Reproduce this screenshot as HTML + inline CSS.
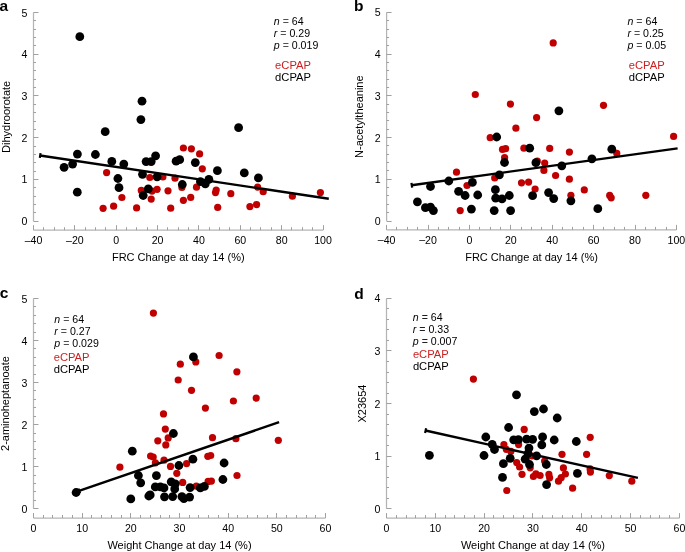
<!DOCTYPE html><html><head><meta charset="utf-8"><style>html,body{margin:0;padding:0;background:#fff;}svg{display:block;font-family:"Liberation Sans",sans-serif;will-change:transform;}</style></head><body>
<svg width="685" height="552" viewBox="0 0 685 552">
<rect width="685" height="552" fill="#fff"/>
<line x1="33.5" y1="12.5" x2="33.5" y2="221.2" stroke="#b4b4b4" stroke-width="1.25"/>
<line x1="33.5" y1="221.5" x2="38.5" y2="221.5" stroke="#a0a0a0" stroke-width="1"/>
<text x="27.5" y="225.2" text-anchor="end" font-size="10.6">0</text>
<line x1="33.5" y1="212.5" x2="36" y2="212.5" stroke="#a0a0a0" stroke-width="1"/>
<line x1="33.5" y1="204.5" x2="36" y2="204.5" stroke="#a0a0a0" stroke-width="1"/>
<line x1="33.5" y1="196.5" x2="36" y2="196.5" stroke="#a0a0a0" stroke-width="1"/>
<line x1="33.5" y1="187.5" x2="36" y2="187.5" stroke="#a0a0a0" stroke-width="1"/>
<line x1="33.5" y1="179.5" x2="38.5" y2="179.5" stroke="#a0a0a0" stroke-width="1"/>
<text x="27.5" y="183.46" text-anchor="end" font-size="10.6">1</text>
<line x1="33.5" y1="171.5" x2="36" y2="171.5" stroke="#a0a0a0" stroke-width="1"/>
<line x1="33.5" y1="162.5" x2="36" y2="162.5" stroke="#a0a0a0" stroke-width="1"/>
<line x1="33.5" y1="154.5" x2="36" y2="154.5" stroke="#a0a0a0" stroke-width="1"/>
<line x1="33.5" y1="146.5" x2="36" y2="146.5" stroke="#a0a0a0" stroke-width="1"/>
<line x1="33.5" y1="137.5" x2="38.5" y2="137.5" stroke="#a0a0a0" stroke-width="1"/>
<text x="27.5" y="141.72" text-anchor="end" font-size="10.6">2</text>
<line x1="33.5" y1="129.5" x2="36" y2="129.5" stroke="#a0a0a0" stroke-width="1"/>
<line x1="33.5" y1="121.5" x2="36" y2="121.5" stroke="#a0a0a0" stroke-width="1"/>
<line x1="33.5" y1="112.5" x2="36" y2="112.5" stroke="#a0a0a0" stroke-width="1"/>
<line x1="33.5" y1="104.5" x2="36" y2="104.5" stroke="#a0a0a0" stroke-width="1"/>
<line x1="33.5" y1="95.5" x2="38.5" y2="95.5" stroke="#a0a0a0" stroke-width="1"/>
<text x="27.5" y="99.98" text-anchor="end" font-size="10.6">3</text>
<line x1="33.5" y1="87.5" x2="36" y2="87.5" stroke="#a0a0a0" stroke-width="1"/>
<line x1="33.5" y1="79.5" x2="36" y2="79.5" stroke="#a0a0a0" stroke-width="1"/>
<line x1="33.5" y1="70.5" x2="36" y2="70.5" stroke="#a0a0a0" stroke-width="1"/>
<line x1="33.5" y1="62.5" x2="36" y2="62.5" stroke="#a0a0a0" stroke-width="1"/>
<line x1="33.5" y1="54.5" x2="38.5" y2="54.5" stroke="#a0a0a0" stroke-width="1"/>
<text x="27.5" y="58.24" text-anchor="end" font-size="10.6">4</text>
<line x1="33.5" y1="45.5" x2="36" y2="45.5" stroke="#a0a0a0" stroke-width="1"/>
<line x1="33.5" y1="37.5" x2="36" y2="37.5" stroke="#a0a0a0" stroke-width="1"/>
<line x1="33.5" y1="29.5" x2="36" y2="29.5" stroke="#a0a0a0" stroke-width="1"/>
<line x1="33.5" y1="20.5" x2="36" y2="20.5" stroke="#a0a0a0" stroke-width="1"/>
<line x1="33.5" y1="12.5" x2="38.5" y2="12.5" stroke="#a0a0a0" stroke-width="1"/>
<text x="27.5" y="16.5" text-anchor="end" font-size="10.6">5</text>
<line x1="33.5" y1="230.2" x2="323.0" y2="230.2" stroke="#b4b4b4" stroke-width="1.25"/>
<line x1="33.5" y1="230.2" x2="33.5" y2="225.2" stroke="#a0a0a0" stroke-width="1"/>
<text x="33.5" y="244" text-anchor="middle" font-size="10.6"><tspan dy="-0.4">–</tspan><tspan dy="0.4">40</tspan></text>
<line x1="43.5" y1="230.2" x2="43.5" y2="227.2" stroke="#a0a0a0" stroke-width="1"/>
<line x1="54.5" y1="230.2" x2="54.5" y2="227.2" stroke="#a0a0a0" stroke-width="1"/>
<line x1="64.5" y1="230.2" x2="64.5" y2="227.2" stroke="#a0a0a0" stroke-width="1"/>
<line x1="74.5" y1="230.2" x2="74.5" y2="225.2" stroke="#a0a0a0" stroke-width="1"/>
<text x="74.86" y="244" text-anchor="middle" font-size="10.6"><tspan dy="-0.4">–</tspan><tspan dy="0.4">20</tspan></text>
<line x1="85.5" y1="230.2" x2="85.5" y2="227.2" stroke="#a0a0a0" stroke-width="1"/>
<line x1="95.5" y1="230.2" x2="95.5" y2="227.2" stroke="#a0a0a0" stroke-width="1"/>
<line x1="105.5" y1="230.2" x2="105.5" y2="227.2" stroke="#a0a0a0" stroke-width="1"/>
<line x1="116.5" y1="230.2" x2="116.5" y2="225.2" stroke="#a0a0a0" stroke-width="1"/>
<text x="116.21" y="244" text-anchor="middle" font-size="10.6">0</text>
<line x1="126.5" y1="230.2" x2="126.5" y2="227.2" stroke="#a0a0a0" stroke-width="1"/>
<line x1="136.5" y1="230.2" x2="136.5" y2="227.2" stroke="#a0a0a0" stroke-width="1"/>
<line x1="147.5" y1="230.2" x2="147.5" y2="227.2" stroke="#a0a0a0" stroke-width="1"/>
<line x1="157.5" y1="230.2" x2="157.5" y2="225.2" stroke="#a0a0a0" stroke-width="1"/>
<text x="157.57" y="244" text-anchor="middle" font-size="10.6">20</text>
<line x1="167.5" y1="230.2" x2="167.5" y2="227.2" stroke="#a0a0a0" stroke-width="1"/>
<line x1="178.5" y1="230.2" x2="178.5" y2="227.2" stroke="#a0a0a0" stroke-width="1"/>
<line x1="188.5" y1="230.2" x2="188.5" y2="227.2" stroke="#a0a0a0" stroke-width="1"/>
<line x1="198.5" y1="230.2" x2="198.5" y2="225.2" stroke="#a0a0a0" stroke-width="1"/>
<text x="198.93" y="244" text-anchor="middle" font-size="10.6">40</text>
<line x1="209.5" y1="230.2" x2="209.5" y2="227.2" stroke="#a0a0a0" stroke-width="1"/>
<line x1="219.5" y1="230.2" x2="219.5" y2="227.2" stroke="#a0a0a0" stroke-width="1"/>
<line x1="229.5" y1="230.2" x2="229.5" y2="227.2" stroke="#a0a0a0" stroke-width="1"/>
<line x1="240.5" y1="230.2" x2="240.5" y2="225.2" stroke="#a0a0a0" stroke-width="1"/>
<text x="240.29" y="244" text-anchor="middle" font-size="10.6">60</text>
<line x1="250.5" y1="230.2" x2="250.5" y2="227.2" stroke="#a0a0a0" stroke-width="1"/>
<line x1="260.5" y1="230.2" x2="260.5" y2="227.2" stroke="#a0a0a0" stroke-width="1"/>
<line x1="271.5" y1="230.2" x2="271.5" y2="227.2" stroke="#a0a0a0" stroke-width="1"/>
<line x1="281.5" y1="230.2" x2="281.5" y2="225.2" stroke="#a0a0a0" stroke-width="1"/>
<text x="281.64" y="244" text-anchor="middle" font-size="10.6">80</text>
<line x1="291.5" y1="230.2" x2="291.5" y2="227.2" stroke="#a0a0a0" stroke-width="1"/>
<line x1="302.5" y1="230.2" x2="302.5" y2="227.2" stroke="#a0a0a0" stroke-width="1"/>
<line x1="312.5" y1="230.2" x2="312.5" y2="227.2" stroke="#a0a0a0" stroke-width="1"/>
<line x1="323.5" y1="230.2" x2="323.5" y2="225.2" stroke="#a0a0a0" stroke-width="1"/>
<text x="323" y="244" text-anchor="middle" font-size="10.6">100</text>
<text x="178.25" y="261.2" text-anchor="middle" font-size="11">FRC Change at day 14 (%)</text>
<text transform="translate(9.5,116.85) rotate(-90)" x="0" y="0" text-anchor="middle" font-size="11">Dihydroorotate</text>
<text x="-0.4" y="11.2" font-size="15.5" font-weight="bold">a</text>
<line x1="386.6" y1="12.4" x2="386.6" y2="221.0" stroke="#b4b4b4" stroke-width="1.25"/>
<line x1="386.6" y1="221.5" x2="391.6" y2="221.5" stroke="#a0a0a0" stroke-width="1"/>
<text x="380.6" y="225" text-anchor="end" font-size="10.6">0</text>
<line x1="386.6" y1="212.5" x2="389.1" y2="212.5" stroke="#a0a0a0" stroke-width="1"/>
<line x1="386.6" y1="204.5" x2="389.1" y2="204.5" stroke="#a0a0a0" stroke-width="1"/>
<line x1="386.6" y1="195.5" x2="389.1" y2="195.5" stroke="#a0a0a0" stroke-width="1"/>
<line x1="386.6" y1="187.5" x2="389.1" y2="187.5" stroke="#a0a0a0" stroke-width="1"/>
<line x1="386.6" y1="179.5" x2="391.6" y2="179.5" stroke="#a0a0a0" stroke-width="1"/>
<text x="380.6" y="183.28" text-anchor="end" font-size="10.6">1</text>
<line x1="386.6" y1="170.5" x2="389.1" y2="170.5" stroke="#a0a0a0" stroke-width="1"/>
<line x1="386.6" y1="162.5" x2="389.1" y2="162.5" stroke="#a0a0a0" stroke-width="1"/>
<line x1="386.6" y1="154.5" x2="389.1" y2="154.5" stroke="#a0a0a0" stroke-width="1"/>
<line x1="386.6" y1="145.5" x2="389.1" y2="145.5" stroke="#a0a0a0" stroke-width="1"/>
<line x1="386.6" y1="137.5" x2="391.6" y2="137.5" stroke="#a0a0a0" stroke-width="1"/>
<text x="380.6" y="141.56" text-anchor="end" font-size="10.6">2</text>
<line x1="386.6" y1="129.5" x2="389.1" y2="129.5" stroke="#a0a0a0" stroke-width="1"/>
<line x1="386.6" y1="120.5" x2="389.1" y2="120.5" stroke="#a0a0a0" stroke-width="1"/>
<line x1="386.6" y1="112.5" x2="389.1" y2="112.5" stroke="#a0a0a0" stroke-width="1"/>
<line x1="386.6" y1="104.5" x2="389.1" y2="104.5" stroke="#a0a0a0" stroke-width="1"/>
<line x1="386.6" y1="95.5" x2="391.6" y2="95.5" stroke="#a0a0a0" stroke-width="1"/>
<text x="380.6" y="99.84" text-anchor="end" font-size="10.6">3</text>
<line x1="386.6" y1="87.5" x2="389.1" y2="87.5" stroke="#a0a0a0" stroke-width="1"/>
<line x1="386.6" y1="79.5" x2="389.1" y2="79.5" stroke="#a0a0a0" stroke-width="1"/>
<line x1="386.6" y1="70.5" x2="389.1" y2="70.5" stroke="#a0a0a0" stroke-width="1"/>
<line x1="386.6" y1="62.5" x2="389.1" y2="62.5" stroke="#a0a0a0" stroke-width="1"/>
<line x1="386.6" y1="54.5" x2="391.6" y2="54.5" stroke="#a0a0a0" stroke-width="1"/>
<text x="380.6" y="58.12" text-anchor="end" font-size="10.6">4</text>
<line x1="386.6" y1="45.5" x2="389.1" y2="45.5" stroke="#a0a0a0" stroke-width="1"/>
<line x1="386.6" y1="37.5" x2="389.1" y2="37.5" stroke="#a0a0a0" stroke-width="1"/>
<line x1="386.6" y1="29.5" x2="389.1" y2="29.5" stroke="#a0a0a0" stroke-width="1"/>
<line x1="386.6" y1="20.5" x2="389.1" y2="20.5" stroke="#a0a0a0" stroke-width="1"/>
<line x1="386.6" y1="12.5" x2="391.6" y2="12.5" stroke="#a0a0a0" stroke-width="1"/>
<text x="380.6" y="16.4" text-anchor="end" font-size="10.6">5</text>
<line x1="386.6" y1="229.9" x2="676.4" y2="229.9" stroke="#b4b4b4" stroke-width="1.25"/>
<line x1="386.5" y1="229.9" x2="386.5" y2="224.9" stroke="#a0a0a0" stroke-width="1"/>
<text x="386.6" y="243.7" text-anchor="middle" font-size="10.6"><tspan dy="-0.4">–</tspan><tspan dy="0.4">40</tspan></text>
<line x1="396.5" y1="229.9" x2="396.5" y2="226.9" stroke="#a0a0a0" stroke-width="1"/>
<line x1="407.5" y1="229.9" x2="407.5" y2="226.9" stroke="#a0a0a0" stroke-width="1"/>
<line x1="417.5" y1="229.9" x2="417.5" y2="226.9" stroke="#a0a0a0" stroke-width="1"/>
<line x1="428.5" y1="229.9" x2="428.5" y2="224.9" stroke="#a0a0a0" stroke-width="1"/>
<text x="428" y="243.7" text-anchor="middle" font-size="10.6"><tspan dy="-0.4">–</tspan><tspan dy="0.4">20</tspan></text>
<line x1="438.5" y1="229.9" x2="438.5" y2="226.9" stroke="#a0a0a0" stroke-width="1"/>
<line x1="448.5" y1="229.9" x2="448.5" y2="226.9" stroke="#a0a0a0" stroke-width="1"/>
<line x1="459.5" y1="229.9" x2="459.5" y2="226.9" stroke="#a0a0a0" stroke-width="1"/>
<line x1="469.5" y1="229.9" x2="469.5" y2="224.9" stroke="#a0a0a0" stroke-width="1"/>
<text x="469.4" y="243.7" text-anchor="middle" font-size="10.6">0</text>
<line x1="479.5" y1="229.9" x2="479.5" y2="226.9" stroke="#a0a0a0" stroke-width="1"/>
<line x1="490.5" y1="229.9" x2="490.5" y2="226.9" stroke="#a0a0a0" stroke-width="1"/>
<line x1="500.5" y1="229.9" x2="500.5" y2="226.9" stroke="#a0a0a0" stroke-width="1"/>
<line x1="510.5" y1="229.9" x2="510.5" y2="224.9" stroke="#a0a0a0" stroke-width="1"/>
<text x="510.8" y="243.7" text-anchor="middle" font-size="10.6">20</text>
<line x1="521.5" y1="229.9" x2="521.5" y2="226.9" stroke="#a0a0a0" stroke-width="1"/>
<line x1="531.5" y1="229.9" x2="531.5" y2="226.9" stroke="#a0a0a0" stroke-width="1"/>
<line x1="541.5" y1="229.9" x2="541.5" y2="226.9" stroke="#a0a0a0" stroke-width="1"/>
<line x1="552.5" y1="229.9" x2="552.5" y2="224.9" stroke="#a0a0a0" stroke-width="1"/>
<text x="552.2" y="243.7" text-anchor="middle" font-size="10.6">40</text>
<line x1="562.5" y1="229.9" x2="562.5" y2="226.9" stroke="#a0a0a0" stroke-width="1"/>
<line x1="572.5" y1="229.9" x2="572.5" y2="226.9" stroke="#a0a0a0" stroke-width="1"/>
<line x1="583.5" y1="229.9" x2="583.5" y2="226.9" stroke="#a0a0a0" stroke-width="1"/>
<line x1="593.5" y1="229.9" x2="593.5" y2="224.9" stroke="#a0a0a0" stroke-width="1"/>
<text x="593.6" y="243.7" text-anchor="middle" font-size="10.6">60</text>
<line x1="603.5" y1="229.9" x2="603.5" y2="226.9" stroke="#a0a0a0" stroke-width="1"/>
<line x1="614.5" y1="229.9" x2="614.5" y2="226.9" stroke="#a0a0a0" stroke-width="1"/>
<line x1="624.5" y1="229.9" x2="624.5" y2="226.9" stroke="#a0a0a0" stroke-width="1"/>
<line x1="635.5" y1="229.9" x2="635.5" y2="224.9" stroke="#a0a0a0" stroke-width="1"/>
<text x="635" y="243.7" text-anchor="middle" font-size="10.6">80</text>
<line x1="645.5" y1="229.9" x2="645.5" y2="226.9" stroke="#a0a0a0" stroke-width="1"/>
<line x1="655.5" y1="229.9" x2="655.5" y2="226.9" stroke="#a0a0a0" stroke-width="1"/>
<line x1="666.5" y1="229.9" x2="666.5" y2="226.9" stroke="#a0a0a0" stroke-width="1"/>
<line x1="676.5" y1="229.9" x2="676.5" y2="224.9" stroke="#a0a0a0" stroke-width="1"/>
<text x="676.4" y="243.7" text-anchor="middle" font-size="10.6">100</text>
<text x="531.5" y="260.9" text-anchor="middle" font-size="11">FRC Change at day 14 (%)</text>
<text transform="translate(363.1,116.7) rotate(-90)" x="0" y="0" text-anchor="middle" font-size="11">N-acetyltheanine</text>
<text x="354" y="11.2" font-size="15.5" font-weight="bold">b</text>
<line x1="33.5" y1="298.5" x2="33.5" y2="508.7" stroke="#b4b4b4" stroke-width="1.25"/>
<line x1="33.5" y1="508.5" x2="38.5" y2="508.5" stroke="#a0a0a0" stroke-width="1"/>
<text x="27.5" y="512.7" text-anchor="end" font-size="10.6">0</text>
<line x1="33.5" y1="500.5" x2="36" y2="500.5" stroke="#a0a0a0" stroke-width="1"/>
<line x1="33.5" y1="491.5" x2="36" y2="491.5" stroke="#a0a0a0" stroke-width="1"/>
<line x1="33.5" y1="483.5" x2="36" y2="483.5" stroke="#a0a0a0" stroke-width="1"/>
<line x1="33.5" y1="475.5" x2="36" y2="475.5" stroke="#a0a0a0" stroke-width="1"/>
<line x1="33.5" y1="466.5" x2="38.5" y2="466.5" stroke="#a0a0a0" stroke-width="1"/>
<text x="27.5" y="470.66" text-anchor="end" font-size="10.6">1</text>
<line x1="33.5" y1="458.5" x2="36" y2="458.5" stroke="#a0a0a0" stroke-width="1"/>
<line x1="33.5" y1="449.5" x2="36" y2="449.5" stroke="#a0a0a0" stroke-width="1"/>
<line x1="33.5" y1="441.5" x2="36" y2="441.5" stroke="#a0a0a0" stroke-width="1"/>
<line x1="33.5" y1="433.5" x2="36" y2="433.5" stroke="#a0a0a0" stroke-width="1"/>
<line x1="33.5" y1="424.5" x2="38.5" y2="424.5" stroke="#a0a0a0" stroke-width="1"/>
<text x="27.5" y="428.62" text-anchor="end" font-size="10.6">2</text>
<line x1="33.5" y1="416.5" x2="36" y2="416.5" stroke="#a0a0a0" stroke-width="1"/>
<line x1="33.5" y1="407.5" x2="36" y2="407.5" stroke="#a0a0a0" stroke-width="1"/>
<line x1="33.5" y1="399.5" x2="36" y2="399.5" stroke="#a0a0a0" stroke-width="1"/>
<line x1="33.5" y1="390.5" x2="36" y2="390.5" stroke="#a0a0a0" stroke-width="1"/>
<line x1="33.5" y1="382.5" x2="38.5" y2="382.5" stroke="#a0a0a0" stroke-width="1"/>
<text x="27.5" y="386.58" text-anchor="end" font-size="10.6">3</text>
<line x1="33.5" y1="374.5" x2="36" y2="374.5" stroke="#a0a0a0" stroke-width="1"/>
<line x1="33.5" y1="365.5" x2="36" y2="365.5" stroke="#a0a0a0" stroke-width="1"/>
<line x1="33.5" y1="357.5" x2="36" y2="357.5" stroke="#a0a0a0" stroke-width="1"/>
<line x1="33.5" y1="348.5" x2="36" y2="348.5" stroke="#a0a0a0" stroke-width="1"/>
<line x1="33.5" y1="340.5" x2="38.5" y2="340.5" stroke="#a0a0a0" stroke-width="1"/>
<text x="27.5" y="344.54" text-anchor="end" font-size="10.6">4</text>
<line x1="33.5" y1="332.5" x2="36" y2="332.5" stroke="#a0a0a0" stroke-width="1"/>
<line x1="33.5" y1="323.5" x2="36" y2="323.5" stroke="#a0a0a0" stroke-width="1"/>
<line x1="33.5" y1="315.5" x2="36" y2="315.5" stroke="#a0a0a0" stroke-width="1"/>
<line x1="33.5" y1="306.5" x2="36" y2="306.5" stroke="#a0a0a0" stroke-width="1"/>
<line x1="33.5" y1="298.5" x2="38.5" y2="298.5" stroke="#a0a0a0" stroke-width="1"/>
<text x="27.5" y="302.5" text-anchor="end" font-size="10.6">5</text>
<line x1="33.5" y1="518.0" x2="325.5" y2="518.0" stroke="#b4b4b4" stroke-width="1.25"/>
<line x1="33.5" y1="518.0" x2="33.5" y2="513" stroke="#a0a0a0" stroke-width="1"/>
<text x="33.5" y="531.8" text-anchor="middle" font-size="10.6">0</text>
<line x1="43.5" y1="518.0" x2="43.5" y2="515" stroke="#a0a0a0" stroke-width="1"/>
<line x1="52.5" y1="518.0" x2="52.5" y2="515" stroke="#a0a0a0" stroke-width="1"/>
<line x1="62.5" y1="518.0" x2="62.5" y2="515" stroke="#a0a0a0" stroke-width="1"/>
<line x1="72.5" y1="518.0" x2="72.5" y2="515" stroke="#a0a0a0" stroke-width="1"/>
<line x1="82.5" y1="518.0" x2="82.5" y2="513" stroke="#a0a0a0" stroke-width="1"/>
<text x="82.17" y="531.8" text-anchor="middle" font-size="10.6">10</text>
<line x1="91.5" y1="518.0" x2="91.5" y2="515" stroke="#a0a0a0" stroke-width="1"/>
<line x1="101.5" y1="518.0" x2="101.5" y2="515" stroke="#a0a0a0" stroke-width="1"/>
<line x1="111.5" y1="518.0" x2="111.5" y2="515" stroke="#a0a0a0" stroke-width="1"/>
<line x1="121.5" y1="518.0" x2="121.5" y2="515" stroke="#a0a0a0" stroke-width="1"/>
<line x1="130.5" y1="518.0" x2="130.5" y2="513" stroke="#a0a0a0" stroke-width="1"/>
<text x="130.83" y="531.8" text-anchor="middle" font-size="10.6">20</text>
<line x1="140.5" y1="518.0" x2="140.5" y2="515" stroke="#a0a0a0" stroke-width="1"/>
<line x1="150.5" y1="518.0" x2="150.5" y2="515" stroke="#a0a0a0" stroke-width="1"/>
<line x1="160.5" y1="518.0" x2="160.5" y2="515" stroke="#a0a0a0" stroke-width="1"/>
<line x1="169.5" y1="518.0" x2="169.5" y2="515" stroke="#a0a0a0" stroke-width="1"/>
<line x1="179.5" y1="518.0" x2="179.5" y2="513" stroke="#a0a0a0" stroke-width="1"/>
<text x="179.5" y="531.8" text-anchor="middle" font-size="10.6">30</text>
<line x1="189.5" y1="518.0" x2="189.5" y2="515" stroke="#a0a0a0" stroke-width="1"/>
<line x1="198.5" y1="518.0" x2="198.5" y2="515" stroke="#a0a0a0" stroke-width="1"/>
<line x1="208.5" y1="518.0" x2="208.5" y2="515" stroke="#a0a0a0" stroke-width="1"/>
<line x1="218.5" y1="518.0" x2="218.5" y2="515" stroke="#a0a0a0" stroke-width="1"/>
<line x1="228.5" y1="518.0" x2="228.5" y2="513" stroke="#a0a0a0" stroke-width="1"/>
<text x="228.17" y="531.8" text-anchor="middle" font-size="10.6">40</text>
<line x1="237.5" y1="518.0" x2="237.5" y2="515" stroke="#a0a0a0" stroke-width="1"/>
<line x1="247.5" y1="518.0" x2="247.5" y2="515" stroke="#a0a0a0" stroke-width="1"/>
<line x1="257.5" y1="518.0" x2="257.5" y2="515" stroke="#a0a0a0" stroke-width="1"/>
<line x1="267.5" y1="518.0" x2="267.5" y2="515" stroke="#a0a0a0" stroke-width="1"/>
<line x1="276.5" y1="518.0" x2="276.5" y2="513" stroke="#a0a0a0" stroke-width="1"/>
<text x="276.83" y="531.8" text-anchor="middle" font-size="10.6">50</text>
<line x1="286.5" y1="518.0" x2="286.5" y2="515" stroke="#a0a0a0" stroke-width="1"/>
<line x1="296.5" y1="518.0" x2="296.5" y2="515" stroke="#a0a0a0" stroke-width="1"/>
<line x1="306.5" y1="518.0" x2="306.5" y2="515" stroke="#a0a0a0" stroke-width="1"/>
<line x1="315.5" y1="518.0" x2="315.5" y2="515" stroke="#a0a0a0" stroke-width="1"/>
<line x1="325.5" y1="518.0" x2="325.5" y2="513" stroke="#a0a0a0" stroke-width="1"/>
<text x="325.5" y="531.8" text-anchor="middle" font-size="10.6">60</text>
<text x="179.5" y="549" text-anchor="middle" font-size="11">Weight Change at day 14 (%)</text>
<text transform="translate(8.8,403.6) rotate(-90)" x="0" y="0" text-anchor="middle" font-size="11">2-aminoheptanoate</text>
<text x="-0.2" y="298.3" font-size="15.5" font-weight="bold">c</text>
<line x1="386.5" y1="298.4" x2="386.5" y2="508.7" stroke="#b4b4b4" stroke-width="1.25"/>
<line x1="386.5" y1="508.5" x2="391.5" y2="508.5" stroke="#a0a0a0" stroke-width="1"/>
<text x="380.5" y="512.7" text-anchor="end" font-size="10.6">0</text>
<line x1="386.5" y1="498.5" x2="389" y2="498.5" stroke="#a0a0a0" stroke-width="1"/>
<line x1="386.5" y1="487.5" x2="389" y2="487.5" stroke="#a0a0a0" stroke-width="1"/>
<line x1="386.5" y1="477.5" x2="389" y2="477.5" stroke="#a0a0a0" stroke-width="1"/>
<line x1="386.5" y1="466.5" x2="389" y2="466.5" stroke="#a0a0a0" stroke-width="1"/>
<line x1="386.5" y1="456.5" x2="391.5" y2="456.5" stroke="#a0a0a0" stroke-width="1"/>
<text x="380.5" y="460.12" text-anchor="end" font-size="10.6">1</text>
<line x1="386.5" y1="445.5" x2="389" y2="445.5" stroke="#a0a0a0" stroke-width="1"/>
<line x1="386.5" y1="435.5" x2="389" y2="435.5" stroke="#a0a0a0" stroke-width="1"/>
<line x1="386.5" y1="424.5" x2="389" y2="424.5" stroke="#a0a0a0" stroke-width="1"/>
<line x1="386.5" y1="414.5" x2="389" y2="414.5" stroke="#a0a0a0" stroke-width="1"/>
<line x1="386.5" y1="403.5" x2="391.5" y2="403.5" stroke="#a0a0a0" stroke-width="1"/>
<text x="380.5" y="407.55" text-anchor="end" font-size="10.6">2</text>
<line x1="386.5" y1="393.5" x2="389" y2="393.5" stroke="#a0a0a0" stroke-width="1"/>
<line x1="386.5" y1="382.5" x2="389" y2="382.5" stroke="#a0a0a0" stroke-width="1"/>
<line x1="386.5" y1="372.5" x2="389" y2="372.5" stroke="#a0a0a0" stroke-width="1"/>
<line x1="386.5" y1="361.5" x2="389" y2="361.5" stroke="#a0a0a0" stroke-width="1"/>
<line x1="386.5" y1="350.5" x2="391.5" y2="350.5" stroke="#a0a0a0" stroke-width="1"/>
<text x="380.5" y="354.98" text-anchor="end" font-size="10.6">3</text>
<line x1="386.5" y1="340.5" x2="389" y2="340.5" stroke="#a0a0a0" stroke-width="1"/>
<line x1="386.5" y1="329.5" x2="389" y2="329.5" stroke="#a0a0a0" stroke-width="1"/>
<line x1="386.5" y1="319.5" x2="389" y2="319.5" stroke="#a0a0a0" stroke-width="1"/>
<line x1="386.5" y1="308.5" x2="389" y2="308.5" stroke="#a0a0a0" stroke-width="1"/>
<line x1="386.5" y1="298.5" x2="391.5" y2="298.5" stroke="#a0a0a0" stroke-width="1"/>
<text x="380.5" y="302.4" text-anchor="end" font-size="10.6">4</text>
<line x1="386.5" y1="518.1" x2="679.4" y2="518.1" stroke="#b4b4b4" stroke-width="1.25"/>
<line x1="386.5" y1="518.1" x2="386.5" y2="513.1" stroke="#a0a0a0" stroke-width="1"/>
<text x="386.5" y="531.9" text-anchor="middle" font-size="10.6">0</text>
<line x1="396.5" y1="518.1" x2="396.5" y2="515.1" stroke="#a0a0a0" stroke-width="1"/>
<line x1="406.5" y1="518.1" x2="406.5" y2="515.1" stroke="#a0a0a0" stroke-width="1"/>
<line x1="415.5" y1="518.1" x2="415.5" y2="515.1" stroke="#a0a0a0" stroke-width="1"/>
<line x1="425.5" y1="518.1" x2="425.5" y2="515.1" stroke="#a0a0a0" stroke-width="1"/>
<line x1="435.5" y1="518.1" x2="435.5" y2="513.1" stroke="#a0a0a0" stroke-width="1"/>
<text x="435.32" y="531.9" text-anchor="middle" font-size="10.6">10</text>
<line x1="445.5" y1="518.1" x2="445.5" y2="515.1" stroke="#a0a0a0" stroke-width="1"/>
<line x1="454.5" y1="518.1" x2="454.5" y2="515.1" stroke="#a0a0a0" stroke-width="1"/>
<line x1="464.5" y1="518.1" x2="464.5" y2="515.1" stroke="#a0a0a0" stroke-width="1"/>
<line x1="474.5" y1="518.1" x2="474.5" y2="515.1" stroke="#a0a0a0" stroke-width="1"/>
<line x1="484.5" y1="518.1" x2="484.5" y2="513.1" stroke="#a0a0a0" stroke-width="1"/>
<text x="484.13" y="531.9" text-anchor="middle" font-size="10.6">20</text>
<line x1="493.5" y1="518.1" x2="493.5" y2="515.1" stroke="#a0a0a0" stroke-width="1"/>
<line x1="503.5" y1="518.1" x2="503.5" y2="515.1" stroke="#a0a0a0" stroke-width="1"/>
<line x1="513.5" y1="518.1" x2="513.5" y2="515.1" stroke="#a0a0a0" stroke-width="1"/>
<line x1="523.5" y1="518.1" x2="523.5" y2="515.1" stroke="#a0a0a0" stroke-width="1"/>
<line x1="532.5" y1="518.1" x2="532.5" y2="513.1" stroke="#a0a0a0" stroke-width="1"/>
<text x="532.95" y="531.9" text-anchor="middle" font-size="10.6">30</text>
<line x1="542.5" y1="518.1" x2="542.5" y2="515.1" stroke="#a0a0a0" stroke-width="1"/>
<line x1="552.5" y1="518.1" x2="552.5" y2="515.1" stroke="#a0a0a0" stroke-width="1"/>
<line x1="562.5" y1="518.1" x2="562.5" y2="515.1" stroke="#a0a0a0" stroke-width="1"/>
<line x1="572.5" y1="518.1" x2="572.5" y2="515.1" stroke="#a0a0a0" stroke-width="1"/>
<line x1="581.5" y1="518.1" x2="581.5" y2="513.1" stroke="#a0a0a0" stroke-width="1"/>
<text x="581.77" y="531.9" text-anchor="middle" font-size="10.6">40</text>
<line x1="591.5" y1="518.1" x2="591.5" y2="515.1" stroke="#a0a0a0" stroke-width="1"/>
<line x1="601.5" y1="518.1" x2="601.5" y2="515.1" stroke="#a0a0a0" stroke-width="1"/>
<line x1="611.5" y1="518.1" x2="611.5" y2="515.1" stroke="#a0a0a0" stroke-width="1"/>
<line x1="620.5" y1="518.1" x2="620.5" y2="515.1" stroke="#a0a0a0" stroke-width="1"/>
<line x1="630.5" y1="518.1" x2="630.5" y2="513.1" stroke="#a0a0a0" stroke-width="1"/>
<text x="630.58" y="531.9" text-anchor="middle" font-size="10.6">50</text>
<line x1="640.5" y1="518.1" x2="640.5" y2="515.1" stroke="#a0a0a0" stroke-width="1"/>
<line x1="650.5" y1="518.1" x2="650.5" y2="515.1" stroke="#a0a0a0" stroke-width="1"/>
<line x1="659.5" y1="518.1" x2="659.5" y2="515.1" stroke="#a0a0a0" stroke-width="1"/>
<line x1="669.5" y1="518.1" x2="669.5" y2="515.1" stroke="#a0a0a0" stroke-width="1"/>
<line x1="679.5" y1="518.1" x2="679.5" y2="513.1" stroke="#a0a0a0" stroke-width="1"/>
<text x="679.4" y="531.9" text-anchor="middle" font-size="10.6">60</text>
<text x="532.95" y="549.1" text-anchor="middle" font-size="11">Weight Change at day 14 (%)</text>
<text transform="translate(365.7,403.55) rotate(-90)" x="0" y="0" text-anchor="middle" font-size="11">X23654</text>
<text x="354.2" y="298.8" font-size="15.5" font-weight="bold">d</text>
<circle cx="183.4" cy="148.0" r="3.6" fill="#c00000"/>
<circle cx="191.4" cy="148.8" r="3.6" fill="#c00000"/>
<circle cx="199.6" cy="153.9" r="3.6" fill="#c00000"/>
<circle cx="202.3" cy="168.8" r="3.6" fill="#c00000"/>
<circle cx="149.8" cy="177.5" r="3.6" fill="#c00000"/>
<circle cx="162.9" cy="176.9" r="3.6" fill="#c00000"/>
<circle cx="175" cy="178.2" r="3.6" fill="#c00000"/>
<circle cx="141.3" cy="190.4" r="3.6" fill="#c00000"/>
<circle cx="152" cy="191.1" r="3.6" fill="#c00000"/>
<circle cx="157.1" cy="189.3" r="3.6" fill="#c00000"/>
<circle cx="168" cy="190.8" r="3.6" fill="#c00000"/>
<circle cx="181.9" cy="187.4" r="3.6" fill="#c00000"/>
<circle cx="196.5" cy="187.2" r="3.6" fill="#c00000"/>
<circle cx="216.2" cy="190.1" r="3.6" fill="#c00000"/>
<circle cx="215.5" cy="192.6" r="3.6" fill="#c00000"/>
<circle cx="230.8" cy="193.7" r="3.6" fill="#c00000"/>
<circle cx="151.2" cy="199.1" r="3.6" fill="#c00000"/>
<circle cx="183.4" cy="200.3" r="3.6" fill="#c00000"/>
<circle cx="190.7" cy="197.4" r="3.6" fill="#c00000"/>
<circle cx="136.6" cy="207.9" r="3.6" fill="#c00000"/>
<circle cx="170.7" cy="208.2" r="3.6" fill="#c00000"/>
<circle cx="217.7" cy="207.4" r="3.6" fill="#c00000"/>
<circle cx="257.6" cy="187.1" r="3.6" fill="#c00000"/>
<circle cx="263.2" cy="191.7" r="3.6" fill="#c00000"/>
<circle cx="249.9" cy="206.6" r="3.6" fill="#c00000"/>
<circle cx="256.6" cy="204.6" r="3.6" fill="#c00000"/>
<circle cx="292.4" cy="196.2" r="3.6" fill="#c00000"/>
<circle cx="320.4" cy="192.6" r="3.6" fill="#c00000"/>
<circle cx="106.6" cy="172.6" r="3.6" fill="#c00000"/>
<circle cx="121.9" cy="197.5" r="3.6" fill="#c00000"/>
<circle cx="113.6" cy="206.2" r="3.6" fill="#c00000"/>
<circle cx="103.1" cy="208.3" r="3.6" fill="#c00000"/>
<circle cx="79.8" cy="36.7" r="4.4" fill="#000"/>
<circle cx="142" cy="101.2" r="4.4" fill="#000"/>
<circle cx="140.9" cy="119.6" r="4.4" fill="#000"/>
<circle cx="238.6" cy="127.7" r="4.4" fill="#000"/>
<circle cx="105.2" cy="131.7" r="4.4" fill="#000"/>
<circle cx="77.4" cy="154.1" r="4.4" fill="#000"/>
<circle cx="95.4" cy="154.5" r="4.4" fill="#000"/>
<circle cx="64.1" cy="167.3" r="4.4" fill="#000"/>
<circle cx="72.6" cy="164.1" r="4.4" fill="#000"/>
<circle cx="111.8" cy="161.4" r="4.4" fill="#000"/>
<circle cx="123.8" cy="164.1" r="4.4" fill="#000"/>
<circle cx="146.1" cy="161.6" r="4.4" fill="#000"/>
<circle cx="151.2" cy="161.6" r="4.4" fill="#000"/>
<circle cx="155.6" cy="155.8" r="4.4" fill="#000"/>
<circle cx="176.1" cy="161.2" r="4.4" fill="#000"/>
<circle cx="179.7" cy="159.7" r="4.4" fill="#000"/>
<circle cx="195.3" cy="162.6" r="4.4" fill="#000"/>
<circle cx="217.4" cy="170.7" r="4.4" fill="#000"/>
<circle cx="142.5" cy="174.3" r="4.4" fill="#000"/>
<circle cx="157.1" cy="176.8" r="4.4" fill="#000"/>
<circle cx="182.3" cy="184.5" r="4.4" fill="#000"/>
<circle cx="200.4" cy="181.6" r="4.4" fill="#000"/>
<circle cx="205.3" cy="183.8" r="4.4" fill="#000"/>
<circle cx="208.9" cy="179.4" r="4.4" fill="#000"/>
<circle cx="148.3" cy="188.9" r="4.4" fill="#000"/>
<circle cx="143.2" cy="195.5" r="4.4" fill="#000"/>
<circle cx="117.9" cy="178.5" r="4.4" fill="#000"/>
<circle cx="119" cy="187.7" r="4.4" fill="#000"/>
<circle cx="77.3" cy="192.2" r="4.4" fill="#000"/>
<circle cx="244.3" cy="172.9" r="4.4" fill="#000"/>
<circle cx="258.4" cy="177.9" r="4.4" fill="#000"/>
<line x1="40" y1="155.5" x2="328.8" y2="198.8" stroke="#000" stroke-width="2.4"/>
<line x1="39.84" y1="157.9" x2="40.55" y2="153.16" stroke="#000" stroke-width="2.2"/>
<circle cx="456.5" cy="172.2" r="3.6" fill="#c00000"/>
<circle cx="467" cy="185.5" r="3.6" fill="#c00000"/>
<circle cx="460.2" cy="210.6" r="3.6" fill="#c00000"/>
<circle cx="504.6" cy="157.7" r="3.6" fill="#c00000"/>
<circle cx="494.7" cy="178" r="3.6" fill="#c00000"/>
<circle cx="521.5" cy="182.8" r="3.6" fill="#c00000"/>
<circle cx="528.6" cy="182.1" r="3.6" fill="#c00000"/>
<circle cx="535.1" cy="189" r="3.6" fill="#c00000"/>
<circle cx="544.7" cy="163" r="3.6" fill="#c00000"/>
<circle cx="543.9" cy="170.4" r="3.6" fill="#c00000"/>
<circle cx="555.6" cy="175.5" r="3.6" fill="#c00000"/>
<circle cx="569.4" cy="179.2" r="3.6" fill="#c00000"/>
<circle cx="570.9" cy="195.3" r="3.6" fill="#c00000"/>
<circle cx="536.6" cy="117.6" r="3.6" fill="#c00000"/>
<circle cx="515.9" cy="128.2" r="3.6" fill="#c00000"/>
<circle cx="490.2" cy="137.7" r="3.6" fill="#c00000"/>
<circle cx="502.5" cy="149.4" r="3.6" fill="#c00000"/>
<circle cx="505.6" cy="148.7" r="3.6" fill="#c00000"/>
<circle cx="523.9" cy="148.2" r="3.6" fill="#c00000"/>
<circle cx="549.7" cy="148.4" r="3.6" fill="#c00000"/>
<circle cx="569.4" cy="152.1" r="3.6" fill="#c00000"/>
<circle cx="537.3" cy="161.1" r="3.6" fill="#c00000"/>
<circle cx="553.2" cy="42.9" r="3.6" fill="#c00000"/>
<circle cx="475.3" cy="94.5" r="3.6" fill="#c00000"/>
<circle cx="510.4" cy="104.1" r="3.6" fill="#c00000"/>
<circle cx="603.5" cy="105.3" r="3.6" fill="#c00000"/>
<circle cx="673.6" cy="136.4" r="3.6" fill="#c00000"/>
<circle cx="616.8" cy="153.4" r="3.6" fill="#c00000"/>
<circle cx="584.3" cy="189.9" r="3.6" fill="#c00000"/>
<circle cx="609.7" cy="195.4" r="3.6" fill="#c00000"/>
<circle cx="611.2" cy="197.8" r="3.6" fill="#c00000"/>
<circle cx="645.8" cy="195.3" r="3.6" fill="#c00000"/>
<circle cx="430.5" cy="186.5" r="4.4" fill="#000"/>
<circle cx="448.8" cy="181" r="4.4" fill="#000"/>
<circle cx="472.4" cy="182.4" r="4.4" fill="#000"/>
<circle cx="458.6" cy="191.3" r="4.4" fill="#000"/>
<circle cx="465.1" cy="195.5" r="4.4" fill="#000"/>
<circle cx="477.7" cy="195" r="4.4" fill="#000"/>
<circle cx="417.4" cy="201.8" r="4.4" fill="#000"/>
<circle cx="425.4" cy="207.7" r="4.4" fill="#000"/>
<circle cx="430.5" cy="207.2" r="4.4" fill="#000"/>
<circle cx="433.4" cy="210.6" r="4.4" fill="#000"/>
<circle cx="471.4" cy="209.1" r="4.4" fill="#000"/>
<circle cx="504.5" cy="162.5" r="4.4" fill="#000"/>
<circle cx="535.9" cy="162.7" r="4.4" fill="#000"/>
<circle cx="561.8" cy="165.8" r="4.4" fill="#000"/>
<circle cx="499.4" cy="174.8" r="4.4" fill="#000"/>
<circle cx="495.4" cy="189.7" r="4.4" fill="#000"/>
<circle cx="495.7" cy="198.2" r="4.4" fill="#000"/>
<circle cx="502" cy="198.9" r="4.4" fill="#000"/>
<circle cx="509.3" cy="195.5" r="4.4" fill="#000"/>
<circle cx="532.6" cy="195.7" r="4.4" fill="#000"/>
<circle cx="548.6" cy="192.6" r="4.4" fill="#000"/>
<circle cx="553.7" cy="198.6" r="4.4" fill="#000"/>
<circle cx="570.9" cy="200.8" r="4.4" fill="#000"/>
<circle cx="494.2" cy="210.6" r="4.4" fill="#000"/>
<circle cx="510.6" cy="210.6" r="4.4" fill="#000"/>
<circle cx="558.9" cy="110.8" r="4.4" fill="#000"/>
<circle cx="496.7" cy="137" r="4.4" fill="#000"/>
<circle cx="529.7" cy="148.2" r="4.4" fill="#000"/>
<circle cx="611.8" cy="149.2" r="4.4" fill="#000"/>
<circle cx="591.9" cy="158.8" r="4.4" fill="#000"/>
<circle cx="597.8" cy="208.7" r="4.4" fill="#000"/>
<line x1="411.6" y1="185.2" x2="677.6" y2="148.4" stroke="#000" stroke-width="2.4"/>
<line x1="412.13" y1="187.55" x2="411.47" y2="182.8" stroke="#000" stroke-width="2.2"/>
<circle cx="119.9" cy="467.2" r="3.6" fill="#c00000"/>
<circle cx="150.6" cy="456" r="3.6" fill="#c00000"/>
<circle cx="153.2" cy="457" r="3.6" fill="#c00000"/>
<circle cx="155.4" cy="462.8" r="3.6" fill="#c00000"/>
<circle cx="157.8" cy="440.8" r="3.6" fill="#c00000"/>
<circle cx="165.8" cy="444.9" r="3.6" fill="#c00000"/>
<circle cx="168.2" cy="437.9" r="3.6" fill="#c00000"/>
<circle cx="165.3" cy="429.1" r="3.6" fill="#c00000"/>
<circle cx="163.5" cy="413.9" r="3.6" fill="#c00000"/>
<circle cx="178.2" cy="380" r="3.6" fill="#c00000"/>
<circle cx="191.5" cy="390.3" r="3.6" fill="#c00000"/>
<circle cx="205.4" cy="408.1" r="3.6" fill="#c00000"/>
<circle cx="212.5" cy="437.7" r="3.6" fill="#c00000"/>
<circle cx="235.9" cy="438.7" r="3.6" fill="#c00000"/>
<circle cx="233.4" cy="401" r="3.6" fill="#c00000"/>
<circle cx="256.2" cy="398.1" r="3.6" fill="#c00000"/>
<circle cx="180.3" cy="364.2" r="3.6" fill="#c00000"/>
<circle cx="195.8" cy="361.9" r="3.6" fill="#c00000"/>
<circle cx="219.1" cy="355.5" r="3.6" fill="#c00000"/>
<circle cx="236.9" cy="371.8" r="3.6" fill="#c00000"/>
<circle cx="153.4" cy="313.1" r="3.6" fill="#c00000"/>
<circle cx="278.3" cy="440.3" r="3.6" fill="#c00000"/>
<circle cx="164" cy="460.2" r="3.6" fill="#c00000"/>
<circle cx="170.5" cy="466.4" r="3.6" fill="#c00000"/>
<circle cx="176.8" cy="473.3" r="3.6" fill="#c00000"/>
<circle cx="186.6" cy="463.6" r="3.6" fill="#c00000"/>
<circle cx="207.8" cy="456.3" r="3.6" fill="#c00000"/>
<circle cx="210.7" cy="455.5" r="3.6" fill="#c00000"/>
<circle cx="182.7" cy="482.4" r="3.6" fill="#c00000"/>
<circle cx="196.3" cy="486.2" r="3.6" fill="#c00000"/>
<circle cx="208.1" cy="481.4" r="3.6" fill="#c00000"/>
<circle cx="211.4" cy="481.1" r="3.6" fill="#c00000"/>
<circle cx="237" cy="475.5" r="3.6" fill="#c00000"/>
<circle cx="76.1" cy="492.5" r="4.4" fill="#000"/>
<circle cx="132.3" cy="451.2" r="4.4" fill="#000"/>
<circle cx="138.4" cy="475.5" r="4.4" fill="#000"/>
<circle cx="140.7" cy="482.8" r="4.4" fill="#000"/>
<circle cx="130.8" cy="498.9" r="4.4" fill="#000"/>
<circle cx="148.8" cy="496" r="4.4" fill="#000"/>
<circle cx="150.2" cy="494.9" r="4.4" fill="#000"/>
<circle cx="156.4" cy="475.6" r="4.4" fill="#000"/>
<circle cx="155.3" cy="486.9" r="4.4" fill="#000"/>
<circle cx="160.4" cy="486.9" r="4.4" fill="#000"/>
<circle cx="164" cy="487.9" r="4.4" fill="#000"/>
<circle cx="171.2" cy="481.8" r="4.4" fill="#000"/>
<circle cx="175.3" cy="483.8" r="4.4" fill="#000"/>
<circle cx="174.7" cy="488.9" r="4.4" fill="#000"/>
<circle cx="172.7" cy="496.6" r="4.4" fill="#000"/>
<circle cx="164.5" cy="496.8" r="4.4" fill="#000"/>
<circle cx="181.9" cy="496.6" r="4.4" fill="#000"/>
<circle cx="183.9" cy="498.6" r="4.4" fill="#000"/>
<circle cx="189.6" cy="497.1" r="4.4" fill="#000"/>
<circle cx="190.1" cy="487.6" r="4.4" fill="#000"/>
<circle cx="200.3" cy="487.9" r="4.4" fill="#000"/>
<circle cx="204.4" cy="486.4" r="4.4" fill="#000"/>
<circle cx="178.9" cy="465.5" r="4.4" fill="#000"/>
<circle cx="192.9" cy="459.2" r="4.4" fill="#000"/>
<circle cx="224.1" cy="463" r="4.4" fill="#000"/>
<circle cx="222.9" cy="479.5" r="4.4" fill="#000"/>
<circle cx="173.4" cy="433.5" r="4.4" fill="#000"/>
<circle cx="193.4" cy="356.9" r="4.4" fill="#000"/>
<line x1="79.0" y1="490.9" x2="279.1" y2="422.2" stroke="#000" stroke-width="2.4"/>
<line x1="79.97" y1="493.1" x2="78.41" y2="488.57" stroke="#000" stroke-width="2.2"/>
<circle cx="473.4" cy="379.1" r="3.6" fill="#c00000"/>
<circle cx="524.2" cy="429.4" r="3.6" fill="#c00000"/>
<circle cx="590.2" cy="437.3" r="3.6" fill="#c00000"/>
<circle cx="503.9" cy="444.6" r="3.6" fill="#c00000"/>
<circle cx="506.3" cy="449.3" r="3.6" fill="#c00000"/>
<circle cx="510.9" cy="451.3" r="3.6" fill="#c00000"/>
<circle cx="518.6" cy="444.6" r="3.6" fill="#c00000"/>
<circle cx="516.7" cy="462.6" r="3.6" fill="#c00000"/>
<circle cx="519.6" cy="467" r="3.6" fill="#c00000"/>
<circle cx="522" cy="474.3" r="3.6" fill="#c00000"/>
<circle cx="530.2" cy="467.8" r="3.6" fill="#c00000"/>
<circle cx="533.4" cy="476.5" r="3.6" fill="#c00000"/>
<circle cx="535.9" cy="473.9" r="3.6" fill="#c00000"/>
<circle cx="540.1" cy="475.5" r="3.6" fill="#c00000"/>
<circle cx="544.6" cy="461" r="3.6" fill="#c00000"/>
<circle cx="548.9" cy="474.4" r="3.6" fill="#c00000"/>
<circle cx="549.6" cy="477.8" r="3.6" fill="#c00000"/>
<circle cx="506.8" cy="490.5" r="3.6" fill="#c00000"/>
<circle cx="532" cy="456" r="3.6" fill="#c00000"/>
<circle cx="562" cy="454.3" r="3.6" fill="#c00000"/>
<circle cx="586.6" cy="454.3" r="3.6" fill="#c00000"/>
<circle cx="563.4" cy="467.9" r="3.6" fill="#c00000"/>
<circle cx="565.4" cy="474" r="3.6" fill="#c00000"/>
<circle cx="561.2" cy="477.7" r="3.6" fill="#c00000"/>
<circle cx="558.5" cy="481.2" r="3.6" fill="#c00000"/>
<circle cx="590.1" cy="468.9" r="3.6" fill="#c00000"/>
<circle cx="590.4" cy="472.1" r="3.6" fill="#c00000"/>
<circle cx="609.3" cy="475.6" r="3.6" fill="#c00000"/>
<circle cx="631.8" cy="481.2" r="3.6" fill="#c00000"/>
<circle cx="572.6" cy="488.2" r="3.6" fill="#c00000"/>
<circle cx="429.4" cy="455.3" r="4.4" fill="#000"/>
<circle cx="485.8" cy="437" r="4.4" fill="#000"/>
<circle cx="484" cy="455.5" r="4.4" fill="#000"/>
<circle cx="492.2" cy="444.3" r="4.4" fill="#000"/>
<circle cx="494.5" cy="449.5" r="4.4" fill="#000"/>
<circle cx="503.4" cy="463.7" r="4.4" fill="#000"/>
<circle cx="502.5" cy="477.4" r="4.4" fill="#000"/>
<circle cx="510.2" cy="458.3" r="4.4" fill="#000"/>
<circle cx="508.6" cy="427.5" r="4.4" fill="#000"/>
<circle cx="516.5" cy="394.8" r="4.4" fill="#000"/>
<circle cx="534.3" cy="411.6" r="4.4" fill="#000"/>
<circle cx="543.5" cy="409" r="4.4" fill="#000"/>
<circle cx="557.2" cy="418" r="4.4" fill="#000"/>
<circle cx="513.7" cy="439.8" r="4.4" fill="#000"/>
<circle cx="518.4" cy="439.6" r="4.4" fill="#000"/>
<circle cx="526.6" cy="439.2" r="4.4" fill="#000"/>
<circle cx="532.6" cy="439.3" r="4.4" fill="#000"/>
<circle cx="542.6" cy="436.9" r="4.4" fill="#000"/>
<circle cx="541.8" cy="444.9" r="4.4" fill="#000"/>
<circle cx="554.2" cy="440" r="4.4" fill="#000"/>
<circle cx="576.3" cy="441.5" r="4.4" fill="#000"/>
<circle cx="529" cy="448.1" r="4.4" fill="#000"/>
<circle cx="528" cy="453.5" r="4.4" fill="#000"/>
<circle cx="525.2" cy="459.2" r="4.4" fill="#000"/>
<circle cx="529.5" cy="464.5" r="4.4" fill="#000"/>
<circle cx="536.6" cy="455.8" r="4.4" fill="#000"/>
<circle cx="546.3" cy="464.5" r="4.4" fill="#000"/>
<circle cx="546.6" cy="484.6" r="4.4" fill="#000"/>
<circle cx="577.4" cy="473.3" r="4.4" fill="#000"/>
<line x1="425.4" y1="430.5" x2="637.9" y2="477.9" stroke="#000" stroke-width="2.4"/>
<line x1="425.07" y1="432.89" x2="426.12" y2="428.2" stroke="#000" stroke-width="2.2"/>
<text x="273.8" y="24.8" font-size="10.6" fill="#000"><tspan font-style="italic">n</tspan> <tspan fill="#505050">=</tspan> 64</text>
<text x="273.8" y="36.7" font-size="10.6" fill="#000"><tspan font-style="italic">r</tspan> <tspan fill="#505050">=</tspan> 0.29</text>
<text x="273.8" y="48.7" font-size="10.6" fill="#000"><tspan font-style="italic">p</tspan> <tspan fill="#505050">=</tspan> 0.019</text>
<text x="275.1" y="69.4" font-size="11.2" fill="#cc1f1f">eCPAP</text>
<text x="275.1" y="81.2" font-size="11.2" fill="#000">dCPAP</text>
<text x="627.5" y="24.7" font-size="10.6" fill="#000"><tspan font-style="italic">n</tspan> <tspan fill="#505050">=</tspan> 64</text>
<text x="627.5" y="36.6" font-size="10.6" fill="#000"><tspan font-style="italic">r</tspan> <tspan fill="#505050">=</tspan> 0.25</text>
<text x="627.5" y="48.6" font-size="10.6" fill="#000"><tspan font-style="italic">p</tspan> <tspan fill="#505050">=</tspan> 0.05</text>
<text x="628.8" y="69.4" font-size="11.2" fill="#cc1f1f">eCPAP</text>
<text x="628.8" y="81.2" font-size="11.2" fill="#000">dCPAP</text>
<text x="54.3" y="322.7" font-size="10.6" fill="#000"><tspan font-style="italic">n</tspan> <tspan fill="#505050">=</tspan> 64</text>
<text x="54.3" y="334.6" font-size="10.6" fill="#000"><tspan font-style="italic">r</tspan> <tspan fill="#505050">=</tspan> 0.27</text>
<text x="54.3" y="346.8" font-size="10.6" fill="#000"><tspan font-style="italic">p</tspan> <tspan fill="#505050">=</tspan> 0.029</text>
<text x="53.7" y="361" font-size="11.2" fill="#cc1f1f">eCPAP</text>
<text x="53.7" y="372.8" font-size="11.2" fill="#000">dCPAP</text>
<text x="412.8" y="320.7" font-size="10.6" fill="#000"><tspan font-style="italic">n</tspan> <tspan fill="#202020">=</tspan> 64</text>
<text x="412.8" y="332.6" font-size="10.6" fill="#000"><tspan font-style="italic">r</tspan> <tspan fill="#202020">=</tspan> 0.33</text>
<text x="412.8" y="344.8" font-size="10.6" fill="#000"><tspan font-style="italic">p</tspan> <tspan fill="#202020">=</tspan> 0.007</text>
<text x="412.9" y="358.4" font-size="11.2" fill="#cc1f1f">eCPAP</text>
<text x="412.9" y="370.3" font-size="11.2" fill="#000">dCPAP</text>
</svg></body></html>
